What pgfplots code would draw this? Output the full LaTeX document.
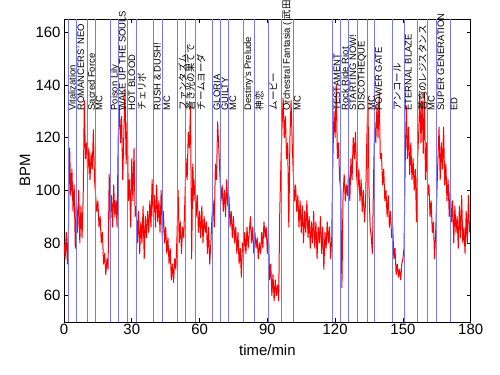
\documentclass[border=0pt]{standalone}
\usepackage{fontspec}
\setmainfont{Liberation Sans}
\newfontfamily\cjk{Noto Sans CJK JP}
\usepackage{pgfplots}
\pgfplotsset{compat=1.18}
\definecolor{vline}{RGB}{120,120,245}
\begin{document}
\begin{tikzpicture}
\begin{axis}[
 at={(0,0)}, anchor=south west, scale only axis, width=406.7bp, height=303bp,
 xmin=0,xmax=180,ymin=50,ymax=165,
 xtick={0,30,...,180}, ytick={60,80,...,160},
 tick align=inside, major tick length=4bp,
 tick style={black, line width=0.6bp},
 ticklabel style={font=\fontsize{15}{17}\selectfont},
 xticklabel style={yshift=1bp},
 /pgf/number format/assume math mode=true,
 xlabel={time/min}, ylabel={BPM},
 label style={font=\fontsize{15}{17}\selectfont},
 xlabel style={at={(axis description cs:0.5,-0.0924)},anchor=center},
 ylabel style={at={(axis description cs:-0.096,0.5)},anchor=center},
 clip mode=individual,
 axis line style={black, line width=0.8bp},
]
\addplot[red, line width=1bp, line join=round] coordinates {
(0,80)(0.5,74)(1,84)(1.5,72)(2,86)(2.5,116)(3,98)(3.5,108)(4,92)(4.5,102)(5,78)(5.5,96)
(6,84)(6.5,100)(7,80)(7.5,94)(8,82)(8.5,98)(9,134)(9.5,112)
(10,118)(10.5,106)(11,116)(11.5,104)(12,114)(12.5,108)(13,123)(13.5,104)
(14,98)(14.5,92)(15,96)(15.5,86)(16,90)(16.5,80)(17,84)(17.5,72)(18,76)(18.5,68)(19,74)(19.5,70)
(20,106)(20.5,88)(21,98)(21.5,86)(22,102)(22.5,90)(23,96)(23.5,86)(24,120)(24.5,132)
(25,118)(25.5,128)(26,104)(26.5,122)(27,138)(27.5,110)(28,126)(28.5,96)(29,104)(29.5,86)
(30,112)(30.5,96)(31,116)(31.5,90)(32,94)(32.5,80)(33,92)(33.5,76)(34,88)(34.5,80)(35,94)(35.5,74)(36,90)(36.5,82)(37,92)(37.5,84)(38,96)(38.5,86)(39,104)(39.5,90)
(40,98)(40.5,86)(41,102)(41.5,88)(42,96)(42.5,84)(43,100)(43.5,82)(44,92)(44.5,80)(45,86)(45.5,76)(46,82)(46.5,72)(47,78)(47.5,66)(48,72)(48.5,65)(49,74)(49.5,70)
(50,82)(50.5,100)(51,80)(51.5,88)(52,76)(52.5,86)(53,82)(53.5,96)(54,112)(54.5,104)(55,122)(55.5,116)(56,132)(56.5,74)(57,110)(57.5,96)(58,104)(58.5,90)(59,98)(59.5,84)
(60,92)(60.5,82)(61,94)(61.5,80)(62,90)(62.5,84)(63,88)(63.5,76)(64,86)(64.5,72)(65,80)(65.5,90)(66,96)(66.5,86)(67,110)(67.5,104)(68,126)(68.5,116)(69,106)(69.5,96)
(70,102)(70.5,92)(71,100)(71.5,90)(72,104)(72.5,94)(73,98)(73.5,86)(74,92)(74.5,82)(75,90)(75.5,80)(76,86)(76.5,76)(77,84)(77.5,72)(78,78)(78.5,67)(79,80)(79.5,76)
(80,84)(80.5,76)(81,86)(81.5,78)(82,84)(82.5,90)(83,80)(83.5,86)(84,76)(84.5,84)(85,78)(85.5,82)(86,74)(86.5,80)(87,76)(87.5,84)(88,78)(88.5,88)(89,82)(89.5,86)
(90,76)(90.5,84)(91,66)(91.5,72)(92,60)(92.5,68)(93,58)(93.5,66)(94,60)(94.5,64)(95,58)(95.5,92)(96,110)(96.5,124)(97,135)(97.5,120)(98,128)(98.5,112)(99,118)(99.5,86)
(100,120)(100.5,134)(101,118)(101.5,106)(102,96)(102.5,102)(103,92)(103.5,98)(104,86)(104.5,96)(105,84)(105.5,94)(106,80)(106.5,92)(107,84)(107.5,96)(108,82)(108.5,90)(109,78)(109.5,88)
(110,80)(110.5,92)(111,78)(111.5,88)(112,74)(112.5,86)(113,80)(113.5,90)(114,76)(114.5,86)(115,70)(115.5,84)(116,78)(116.5,88)(117,80)(117.5,86)(118,74)(118.5,82)(119,112)(119.5,130)
(120,120)(120.5,140)(121,112)(121.5,118)(122,104)(122.5,100)(123,63)(123.5,98)(124,106)(124.5,96)(125,102)(125.5,98)(126,108)(126.5,96)(127,112)(127.5,104)(128,120)(128.5,112)(129,122)(129.5,106)
(130,100)(130.5,108)(131,96)(131.5,104)(132,92)(132.5,100)(133,88)(133.5,96)(134,118)(134.5,135)(135,100)(135.5,86)(136,82)(136.5,76)(137,104)(137.5,126)(138,118)(138.5,132)(139,120)(139.5,137)
(140,112)(140.5,114)(141,102)(141.5,108)(142,96)(142.5,100)(143,90)(143.5,98)(144,86)(144.5,92)(145,82)(145.5,86)(146,74)(146.5,78)(147,68)(147.5,72)(148,67)(148.5,70)(149,66)(149.5,72)
(150,74)(150.5,78)(151,110)(151.5,132)(152,112)(152.5,124)(153,106)(153.5,118)(154,104)(154.5,112)(155,100)(155.5,108)(156,88)(156.5,112)(157,122)(157.5,136)(158,118)(158.5,134)(159,114)(159.5,137)
(160,104)(160.5,118)(161,98)(161.5,102)(162,90)(162.5,96)(163,84)(163.5,88)(164,74)(164.5,84)(165,98)(165.5,112)(166,124)(166.5,104)(167,118)(167.5,108)(168,124)(168.5,102)(169,110)(169.5,96)
(170,104)(170.5,90)(171,100)(171.5,88)(172,96)(172.5,80)(173,94)(173.5,84)(174,90)(174.5,78)(175,94)(175.5,82)(176,98)(176.5,80)(177,86)(177.5,76)(178,92)(178.5,80)(179,98)(179.5,84)
};
\addplot[vline, line width=0.9bp, ycomb] coordinates {
(1.8,165)(5.6,165)(10.3,165)(13.7,165)(20.4,165)(24.0,165)(28.2,165)(32.2,165)(39.5,165)(43.7,165)
(50.2,165)(53.7,165)(58.3,165)(65.8,165)(69.4,165)(72.9,165)(79.4,165)(84.2,165)(90.4,165)(96.1,165)
(101.5,165)(118.9,165)(122.5,165)(126.0,165)(129.8,165)(134.3,165)(137.4,165)(145.5,165)(150.6,165)
(156.4,165)(160.8,165)(165.0,165)(170.9,165)
};
\begin{scope}[every node/.style={rotate=90, anchor=north west, inner sep=0.6bp, font=\fontsize{9.5}{10}\selectfont}]
\node at (axis cs:1.8,130) {Vitalization};
\node at (axis cs:5.6,130) {ROMANCERS' NEO};
\node at (axis cs:10.3,130) {Sacred Force};
\node at (axis cs:13.7,130) {MC};
\node at (axis cs:20.4,130) {Poison Lily};
\node at (axis cs:24.0,130) {WAKE UP THE SOULS};
\node at (axis cs:28.2,130) {HOT BLOOD};
\node at (axis cs:32.2,130) {\cjk チェリボ};
\node at (axis cs:39.5,130) {RUSH \& DUSH!};
\node at (axis cs:43.7,130) {MC};
\node at (axis cs:50.2,130) {\cjk ファンタズム};
\node at (axis cs:53.7,130) {\cjk 蒼き光の果てで};
\node at (axis cs:58.3,130) {\cjk チームヨーダ};
\node at (axis cs:65.8,130) {GLORIA};
\node at (axis cs:69.4,130) {GUILTY};
\node at (axis cs:72.9,130) {MC};
\node at (axis cs:79.4,130) {Destiny's Prelude};
\node at (axis cs:84.2,130) {\cjk 神恋};
\node at (axis cs:90.4,130) {\cjk ムービー};
\node at (axis cs:96.1,130) {Orchestral Fantasia ( {\cjk 武田真治} )};
\node at (axis cs:101.5,130) {MC};
\node at (axis cs:118.9,130) {TESTAMENT};
\node at (axis cs:122.5,130) {Rock Ride Riot};
\node at (axis cs:126.0,130) {STARTING NOW!};
\node at (axis cs:129.8,130) {DISCOTHEQUE};
\node at (axis cs:134.3,130) {MC};
\node at (axis cs:137.4,130) {POWER GATE};
\node at (axis cs:145.5,130) {\cjk アンコール};
\node at (axis cs:150.6,130) {ETERNAL BLAZE};
\node at (axis cs:156.4,130) {\cjk 蒼穹のレジスタンス};
\node at (axis cs:160.8,130) {MC};
\node at (axis cs:165.0,130) {SUPER GENERATION};
\node at (axis cs:170.9,130) {ED};
\end{scope}
\end{axis}
\pgfresetboundingbox
\useasboundingbox (-64bp,-53bp) rectangle (436bp,322bp);
\end{tikzpicture}
\end{document}
